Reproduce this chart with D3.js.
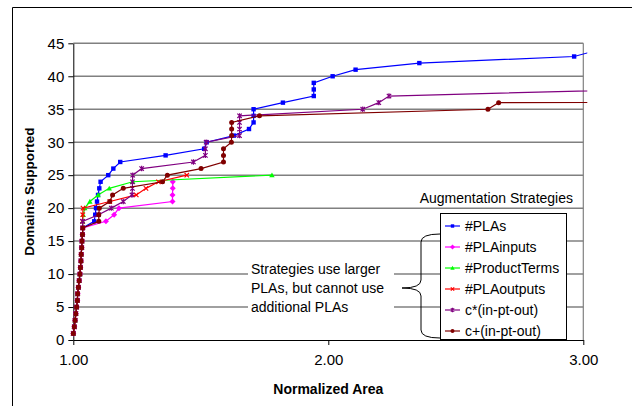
<!DOCTYPE html>
<html>
<head>
<meta charset="utf-8">
<script src="https://cdn.jsdelivr.net/npm/d3@7"></script>
<style>
  body { margin: 0; background: #fff; }
  svg { display: block; font-family: Arial, 'Liberation Sans', sans-serif; }
</style>
</head>
<body>
<div id="chart"></div>
<script>
// Domains supported (1..N) vs normalized area, one array of areas per strategy
const shared = [1.000, 1.004, 1.007, 1.010, 1.013, 1.016, 1.017, 1.020, 1.023,
  1.026, 1.028, 1.030, 1.031, 1.033, 1.034, 1.036, 1.037];
const plas = [1.082, 1.086, 1.089, 1.093, 1.097, 1.102, 1.107, 1.137, 1.157, 1.184,
  1.362, 1.513, 1.523, 1.630, 1.689, 1.707, 1.707, 1.707, 1.822, 1.943, 1.943, 1.943,
  2.017, 2.107, 2.357, 2.964, 3.06];
const plaInputs = [1.128, 1.160, 1.179, 1.389, 1.389, 1.390, 1.390];
const productTerms = [1.037, 1.039, 1.045, 1.065, 1.097, 1.141, 1.233, 1.779];
const plaOutputs = [1.036, 1.037, 1.038, 1.143, 1.247, 1.285, 1.334, 1.445];
const cStar = [1.036, 1.099, 1.149, 1.196, 1.230, 1.232, 1.232, 1.233, 1.268, 1.471,
  1.518, 1.518, 1.521, 1.652, 1.652, 1.652, 1.652, 2.135, 2.198, 2.238, 3.22];
const cPlus = [1.100, 1.100, 1.102, 1.143, 1.154, 1.196, 1.350, 1.369, 1.501, 1.589,
  1.589, 1.589, 1.620, 1.621, 1.621, 1.621, 1.730, 2.626, 2.668, 9.0];

const seriesNames = ['#PLAs', '#PLAinputs', '#ProductTerms', '#PLAoutputs', 'c*(in-pt-out)', 'c+(in-pt-out)'];
const seriesColors = ['#0000ff', '#ff00ff', '#00ff00', '#ff0000', '#800080', '#800000'];
const seriesMarkers = ['square', 'diamond', 'triangle', 'cross', 'star', 'circle'];
const seriesAreas = [plas, plaInputs, productTerms, plaOutputs, cStar, cPlus];

const xTicks = [1, 2, 3];
const yTicks = d3.range(0, 50, 5);
const noteLines = ['Strategies use larger', 'PLAs, but cannot use', 'additional PLAs'];

const W = 632, H = 406;
const plot = { left: 73.3, right: 583.3, top: 43.3, bottom: 340 };

const svg = d3.select('#chart').append('svg').attr('width', W).attr('height', H);

// outer frame (only top & left visible in the crop)
svg.append('path')
  .attr('d', 'M12.5,' + H + 'V7.5H' + W)
  .attr('fill', 'none').attr('stroke', '#000').attr('stroke-width', 1);

const x = d3.scaleLinear().domain([1, 3]).range([plot.left, plot.right]);
const y = d3.scaleLinear().domain([0, 45]).range([plot.bottom, plot.top]);

// gridlines
svg.append('g').selectAll('line').data(yTicks.filter(d => d > 0)).join('line')
  .attr('x1', plot.left).attr('x2', plot.right)
  .attr('y1', d => y(d)).attr('y2', d => y(d))
  .attr('stroke', '#808080').attr('stroke-width', 1.5);
svg.append('line')
  .attr('x1', plot.right).attr('x2', plot.right)
  .attr('y1', plot.top).attr('y2', plot.bottom)
  .attr('stroke', '#808080').attr('stroke-width', 1.2);

// axes
const yAxis = svg.append('g').attr('transform', 'translate(' + plot.left + ',0)')
  .call(d3.axisLeft(y).tickValues(yTicks).tickSize(5).tickPadding(4).tickSizeOuter(0));
const xAxis = svg.append('g').attr('transform', 'translate(0,' + plot.bottom + ')')
  .call(d3.axisBottom(x).tickValues(xTicks).tickFormat(d3.format('.2f')).tickSize(5).tickPadding(9).tickSizeOuter(0));
[xAxis, yAxis].forEach(a => {
  a.select('.domain').attr('stroke', '#000');
  a.selectAll('.tick line').attr('stroke', '#000');
  a.selectAll('text').attr('font-size', 15).attr('fill', '#000').attr('font-family', 'Arial, Liberation Sans, sans-serif');
});

svg.append('text')
  .attr('transform', 'translate(34,' + (plot.top + plot.bottom) / 2 + ') rotate(-90)')
  .attr('text-anchor', 'middle').attr('font-size', 13.5).attr('font-weight', 'bold')
  .text('Domains Supported');
svg.append('text')
  .attr('x', x(2)).attr('y', 394)
  .attr('text-anchor', 'middle').attr('font-size', 14).attr('font-weight', 'bold')
  .text('Normalized Area');

// marker shapes
function marker(sel, kind, color, s) {
  if (kind === 'square') {
    sel.append('rect').attr('x', -s).attr('y', -s).attr('width', 2 * s).attr('height', 2 * s).attr('fill', color);
  } else if (kind === 'diamond') {
    sel.append('path').attr('d', `M0,${-s - 0.8}L${s + 0.8},0L0,${s + 0.8}L${-s - 0.8},0Z`).attr('fill', color);
  } else if (kind === 'triangle') {
    sel.append('path').attr('d', `M0,${-s - 0.5}L${s + 0.5},${s}L${-s - 0.5},${s}Z`).attr('fill', color);
  } else if (kind === 'cross') {
    sel.append('path').attr('d', `M${-s},${-s}L${s},${s}M${-s},${s}L${s},${-s}`).attr('stroke', color).attr('stroke-width', 1.2);
  } else if (kind === 'star') {
    sel.append('path').attr('d', `M${-s},${-s}L${s},${s}M${-s},${s}L${s},${-s}M0,${-s - 0.5}V${s + 0.5}`)
      .attr('stroke', color).attr('stroke-width', 1.2);
  } else {
    sel.append('circle').attr('r', s + 0.3).attr('fill', color);
  }
}

svg.append('defs').append('clipPath').attr('id', 'clip')
  .append('rect').attr('x', plot.left - 6).attr('y', 0).attr('width', plot.right - plot.left + 10).attr('height', plot.bottom + 6);

const line = d3.line().x(d => x(d.area)).y(d => y(d.count));
const marks = svg.append('g').attr('clip-path', 'url(#clip)');

seriesAreas.forEach((tail, i) => {
  const data = shared.concat(tail).map((a, j) => ({ area: a, count: j + 1 }));
  const g = marks.append('g');
  g.append('path').attr('d', line(data))
    .attr('fill', 'none').attr('stroke', seriesColors[i]).attr('stroke-width', 1.2);
  data.filter(d => d.area <= 3.05).forEach(d => {
    const m = g.append('g').attr('transform', 'translate(' + x(d.area) + ',' + y(d.count) + ')');
    marker(m, seriesMarkers[i], seriesColors[i], 2.2);
  });
});

// annotation with white backing
svg.append('rect').attr('x', 248).attr('y', 256).attr('width', 146).attr('height', 61).attr('fill', '#fff');
svg.append('g').selectAll('text').data(noteLines).join('text')
  .attr('x', 251).attr('y', (d, i) => 274 + i * 19)
  .attr('font-size', 14).text(d => d);

// brace
svg.append('path')
  .attr('d', 'M440,234 Q421,234 421,242 V280 Q421,288 402,288 Q421,288 421,296 V330 Q421,338 440,338')
  .attr('fill', 'none').attr('stroke', '#000').attr('stroke-width', 1);

// legend
svg.append('text').attr('x', 573).attr('y', 203).attr('text-anchor', 'end')
  .attr('font-size', 14).text('Augmentation Strategies');
svg.append('rect').attr('x', 440.5).attr('y', 213.5).attr('width', 126).attr('height', 126)
  .attr('fill', '#fff').attr('stroke', '#000').attr('stroke-width', 1);
const legend = svg.append('g').selectAll('g').data(seriesNames).join('g')
  .attr('transform', (d, i) => 'translate(0,' + (226 + i * 21) + ')');
legend.append('line').attr('x1', 445).attr('x2', 460)
  .attr('stroke', (d, i) => seriesColors[i]).attr('stroke-width', 1.2);
legend.each(function (d, i) {
  const m = d3.select(this).append('g').attr('transform', 'translate(452.5,0)');
  marker(m, seriesMarkers[i], seriesColors[i], 1.7);
});
legend.append('text').attr('x', 465).attr('y', 5).attr('font-size', 14).text(d => d);
</script>
</body>
</html>
